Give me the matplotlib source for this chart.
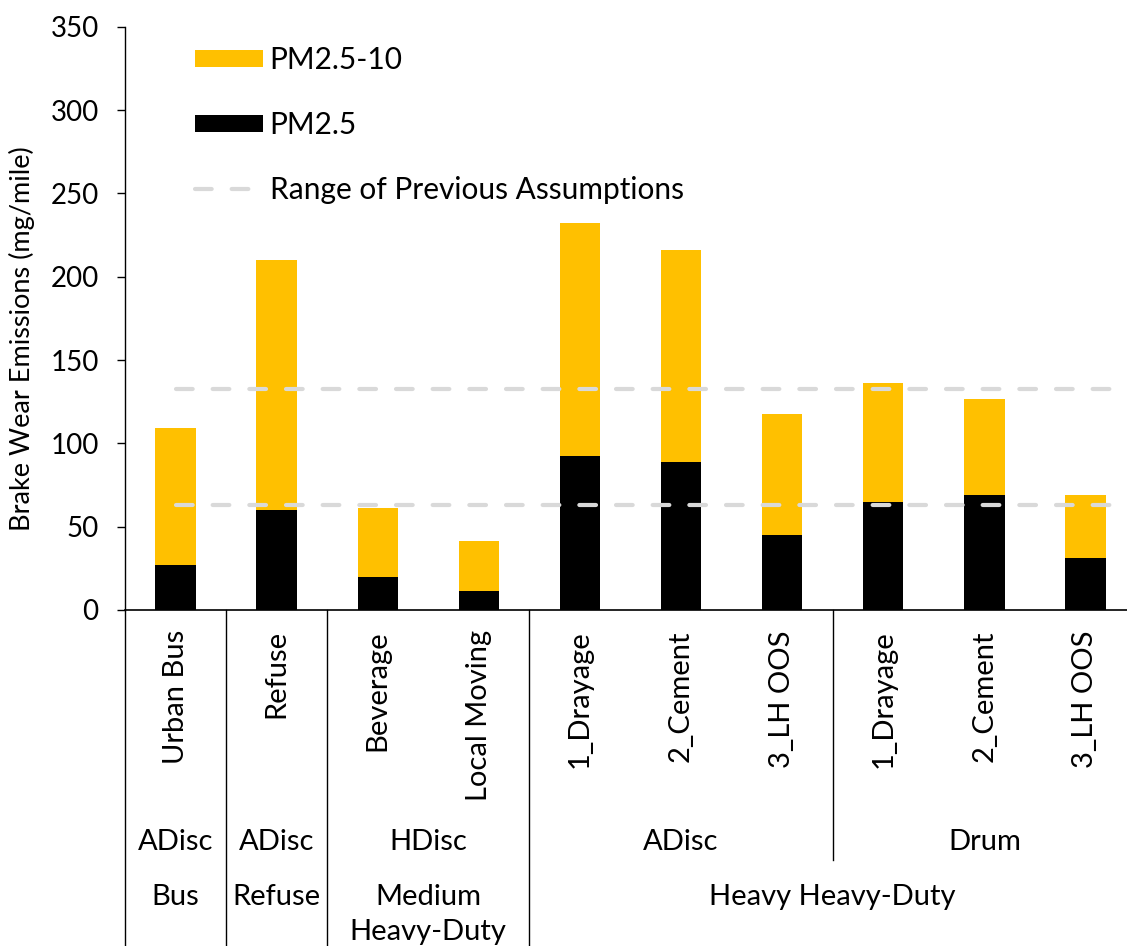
import matplotlib
matplotlib.use("Agg")
import matplotlib.pyplot as plt
import matplotlib.transforms as mtransforms

plt.rcParams['font.family'] = ['Lato', 'DejaVu Sans']

# data
categories = ["Urban Bus", "Refuse", "Beverage", "Local Moving",
              "1_Drayage", "2_Cement", "3_LH OOS",
              "1_Drayage", "2_Cement", "3_LH OOS"]
pm25 = [26.8, 59.8, 19.6, 11.2, 92.6, 88.8, 45.0, 64.8, 69.0, 31.2]
pm25_10 = [82.6, 150.2, 41.4, 30.0, 139.4, 127.0, 72.6, 71.4, 57.8, 37.6]
prev_low, prev_high = 62.8, 132.8

# (label, first index, last index)
brake_groups = [("ADisc", 0, 0), ("ADisc", 1, 1), ("HDisc", 2, 3),
                ("ADisc", 4, 6), ("Drum", 7, 9)]
vehicle_groups = [("Bus", 0, 0), ("Refuse", 1, 1), ("Medium\nHeavy-Duty", 2, 3),
                  ("Heavy Heavy-Duty", 4, 9)]

yellow = "#FFC000"
W, H = 1127, 946
fig = plt.figure(figsize=(W / 100, H / 100), dpi=100)
ax = fig.add_axes([125 / W, (H - 610) / H, 1011 / W, 583.3 / H])

x = list(range(len(categories)))
b_fine = ax.bar(x, pm25, width=0.4, color="black", zorder=2)
b_coarse = ax.bar(x, pm25_10, width=0.4, bottom=pm25, color=yellow, zorder=2)

# range of previous assumptions
dash = dict(color="#D9D9D9", lw=3, linestyle=(0, (4.0, 4.8)),
            dash_capstyle="round", zorder=3)
l_prev, = ax.plot([0, 9.35], [prev_high, prev_high], **dash)
ax.plot([0, 9.35], [prev_low, prev_low], **dash)

ax.set_xlim(-0.5, 9.5)
ax.set_ylim(0, 350)
ax.set_yticks(range(0, 351, 50))
ax.tick_params(axis="y", labelsize=20, length=6, width=1, pad=13, direction="out")
ax.tick_params(axis="x", bottom=False, labelbottom=False)
for s in ["top", "right"]:
    ax.spines[s].set_visible(False)
ax.spines["left"].set_linewidth(1)
ax.spines["bottom"].set_linewidth(1.2)

fig.text(22 / W, 1 - 339 / H, "Brake Wear Emissions (mg/mile)", rotation=90,
         ha="center", va="center", fontsize=19.5)

# multi-level category axis
tr = mtransforms.blended_transform_factory(ax.transData, ax.transAxes)
px = 583.3  # axes height in pixels


def ay(p):
    return (610 - p) / px


fs = 21
for i, c in enumerate(categories):
    ax.text(i, ay(630), c, rotation=90, ha="center", va="top", fontsize=fs, transform=tr)
for lab, a, b in brake_groups:
    ax.text((a + b) / 2, ay(842), lab, ha="center", va="center", fontsize=fs, transform=tr)
for lab, a, b in vehicle_groups:
    for k, line in enumerate(lab.split("\n")):
        ax.text((a + b) / 2, ay(897 + 35 * k), line, ha="center", va="center",
                fontsize=fs, transform=tr)

for xs, bot in [(-0.5, 946), (0.5, 946), (1.5, 946), (3.5, 946), (6.5, 860), (9.5, 946)]:
    ax.plot([xs, xs], [0, ay(bot)], color="black", lw=1, transform=tr, clip_on=False)

ax.legend([b_coarse, b_fine, l_prev],
          ["PM2.5-10", "PM2.5", "Range of Previous Assumptions"],
          loc="upper left", bbox_to_anchor=(195 / W, 1 - 46 / H),
          bbox_transform=fig.transFigure, frameon=False, fontsize=21.5,
          handlelength=2.27, handleheight=0.54, handletextpad=0.23,
          labelspacing=1.24, borderpad=0, borderaxespad=0)

fig.savefig("out.png", dpi=100)
